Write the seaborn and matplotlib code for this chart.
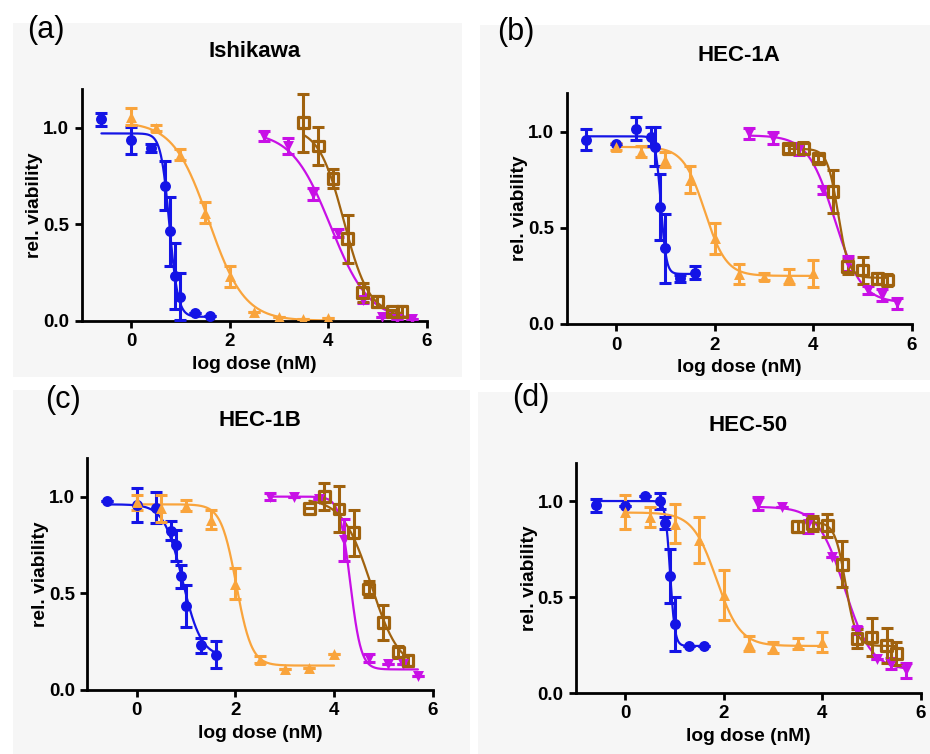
import numpy as np
import pandas as pd
import matplotlib
matplotlib.use("Agg")
import matplotlib.pyplot as plt
from matplotlib.patches import Rectangle
import seaborn as sns

sns.set_style("white")
plt.rcParams['font.family'] = ['Liberation Sans', 'DejaVu Sans']
plt.rcParams['text.color'] = 'black'
plt.rcParams['axes.labelcolor'] = 'black'
plt.rcParams['xtick.color'] = 'black'
plt.rcParams['ytick.color'] = 'black'

# ---------------- data ----------------
PANELS = ["Ishikawa", "HEC-1A", "HEC-1B", "HEC-50"]
LETTERS = ["(a)", "(b)", "(c)", "(d)"]
COMPOUNDS = ["blue", "orange", "magenta", "brown"]

DOSE_BLUE = [-0.6, 0.0, 0.4, 0.7, 0.8, 0.9, 1.0, 1.3, 1.6]
DOSE_ORANGE = [0.0, 0.5, 1.0, 1.5, 2.0, 2.5, 3.0, 3.5, 4.0]
DOSE_MAGENTA = [2.7, 3.18, 3.7, 4.2, 4.7, 5.1, 5.4, 5.7]
DOSE_BROWN = [3.5, 3.8, 4.1, 4.4, 4.7, 5.0, 5.3, 5.5]

# Ishikawa
ISH_BLUE_Y = [1.043, 0.934, 0.893, 0.70, 0.463, 0.23, 0.125, 0.038, 0.024]
ISH_BLUE_E = [0.035, 0.07, 0.02, 0.125, 0.18, 0.17, 0.12, 0.0, 0.0]
ISH_ORANGE_Y = [1.057, 1.0, 0.86, 0.56, 0.23, 0.047, 0.02, 0.007, 0.012]
ISH_ORANGE_E = [0.045, 0.015, 0.03, 0.055, 0.055, 0.0, 0.0, 0.0, 0.0]
ISH_MAGENTA_Y = [0.957, 0.905, 0.655, 0.456, 0.108, 0.02, 0.007, 0.007]
ISH_MAGENTA_E = [0.025, 0.04, 0.03, 0.02, 0.015, 0.0, 0.0, 0.0]
ISH_BROWN_Y = [1.026, 0.905, 0.737, 0.425, 0.146, 0.10, 0.047, 0.047]
ISH_BROWN_E = [0.15, 0.10, 0.05, 0.125, 0.05, 0.03, 0.01, 0.03]

# HEC-1A
A1_BLUE_Y = [0.957, 0.934, 1.014, 0.974, 0.922, 0.607, 0.393, 0.237, 0.267]
A1_BLUE_E = [0.055, 0.0, 0.06, 0.05, 0.10, 0.17, 0.18, 0.02, 0.035]
A1_ORANGE_Y = [0.922, 0.896, 0.853, 0.749, 0.445, 0.26, 0.246, 0.246, 0.263]
A1_ORANGE_E = [0.02, 0.03, 0.04, 0.07, 0.08, 0.05, 0.02, 0.04, 0.07]
A1_MAGENTA_Y = [0.99, 0.965, 0.91, 0.697, 0.315, 0.177, 0.15, 0.107]
A1_MAGENTA_E = [0.03, 0.03, 0.03, 0.02, 0.04, 0.02, 0.03, 0.03]
A1_BROWN_Y = [0.91, 0.913, 0.86, 0.688, 0.298, 0.28, 0.237, 0.229]
A1_BROWN_E = [0.02, 0.03, 0.02, 0.11, 0.04, 0.07, 0.03, 0.03]

# HEC-1B
B1_BLUE_Y = [0.978, 0.957, 0.943, 0.824, 0.749, 0.588, 0.433, 0.23, 0.182]
B1_BLUE_E = [0.0, 0.09, 0.08, 0.05, 0.08, 0.06, 0.11, 0.04, 0.07]
B1_ORANGE_Y = [0.97, 0.94, 0.953, 0.88, 0.55, 0.156, 0.109, 0.114, 0.187]
B1_ORANGE_E = [0.04, 0.07, 0.03, 0.05, 0.08, 0.02, 0.0, 0.0, 0.0]
B1_MAGENTA_Y = [1.0, 0.997, 0.99, 0.775, 0.166, 0.135, 0.131, 0.069]
B1_MAGENTA_E = [0.02, 0.0, 0.0, 0.11, 0.02, 0.0, 0.0, 0.0]
B1_BROWN_Y = [0.94, 1.0, 0.936, 0.813, 0.521, 0.348, 0.195, 0.152]
B1_BROWN_E = [0.0, 0.07, 0.12, 0.12, 0.04, 0.09, 0.03, 0.03]

# HEC-50
H50_BLUE_Y = [0.977, 0.972, 1.024, 1.0, 0.885, 0.608, 0.358, 0.243, 0.243]
H50_BLUE_E = [0.035, 0.0, 0.0, 0.04, 0.03, 0.14, 0.14, 0.0, 0.0]
H50_ORANGE_Y = [0.943, 0.917, 0.882, 0.795, 0.512, 0.257, 0.236, 0.257, 0.266]
H50_ORANGE_E = [0.09, 0.05, 0.10, 0.12, 0.13, 0.04, 0.03, 0.03, 0.05]
H50_MAGENTA_Y = [0.986, 0.969, 0.882, 0.708, 0.326, 0.179, 0.153, 0.118]
H50_MAGENTA_E = [0.035, 0.0, 0.05, 0.0, 0.02, 0.0, 0.03, 0.04]
H50_BROWN_Y = [0.868, 0.882, 0.873, 0.67, 0.283, 0.292, 0.248, 0.205]
H50_BROWN_E = [0.03, 0.04, 0.06, 0.12, 0.05, 0.10, 0.09, 0.06]

# fitted dose-response parameters: top, bottom, logIC50, hill
FIT_ISH = [[0.97, 0.02, 0.78, 5.0], [1.03, 0.0, 1.58, 1.2],
           [0.98, 0.0, 4.05, 1.1], [1.0, 0.03, 4.32, 1.7]]
FIT_A1 = [[0.975, 0.26, 0.91, 8.0], [0.92, 0.25, 1.8, 2.0],
          [0.98, 0.11, 4.43, 1.6], [0.91, 0.24, 4.5, 4.0]]
FIT_B1 = [[0.96, 0.17, 0.93, 2.3], [0.96, 0.125, 2.02, 2.8],
          [1.0, 0.105, 4.33, 4.0], [0.99, 0.10, 4.75, 1.5]]
FIT_H50 = [[1.0, 0.245, 0.91, 9.0], [0.94, 0.245, 1.85, 1.8],
           [0.97, 0.12, 4.45, 1.6], [0.89, 0.245, 4.47, 4.0]]

X_TICKS = [0, 2, 4, 6]
Y_TICKS = [0.0, 0.5, 1.0]

# ---------------- styling ----------------
COLORS = {"blue": "#1414e6", "orange": "#f9a43c", "magenta": "#c810e6", "brown": "#a0620e"}
MARKERS = {"blue": "o", "orange": "^", "magenta": "v", "brown": "s"}

DOSES = {"blue": DOSE_BLUE, "orange": DOSE_ORANGE, "magenta": DOSE_MAGENTA, "brown": DOSE_BROWN}
PANEL_Y = [
    [ISH_BLUE_Y, ISH_ORANGE_Y, ISH_MAGENTA_Y, ISH_BROWN_Y],
    [A1_BLUE_Y, A1_ORANGE_Y, A1_MAGENTA_Y, A1_BROWN_Y],
    [B1_BLUE_Y, B1_ORANGE_Y, B1_MAGENTA_Y, B1_BROWN_Y],
    [H50_BLUE_Y, H50_ORANGE_Y, H50_MAGENTA_Y, H50_BROWN_Y],
]
PANEL_E = [
    [ISH_BLUE_E, ISH_ORANGE_E, ISH_MAGENTA_E, ISH_BROWN_E],
    [A1_BLUE_E, A1_ORANGE_E, A1_MAGENTA_E, A1_BROWN_E],
    [B1_BLUE_E, B1_ORANGE_E, B1_MAGENTA_E, B1_BROWN_E],
    [H50_BLUE_E, H50_ORANGE_E, H50_MAGENTA_E, H50_BROWN_E],
]
PANEL_FIT = [FIT_ISH, FIT_A1, FIT_B1, FIT_H50]

W, H = 930, 754
fig = plt.figure(figsize=(W / 100, H / 100), dpi=100, facecolor="white")

# panel background boxes (pixels: x0, y0, x1, y1)
BOXES = [(13, 23, 462, 377), (480, 25, 930, 380), (13, 390, 470, 754), (478, 392, 930, 754)]
for (x0, y0, x1, y1) in BOXES:
    fig.patches.append(Rectangle((x0 / W, 1 - y1 / H), (x1 - x0) / W, (y1 - y0) / H,
                                 transform=fig.transFigure, facecolor="#f6f6f6",
                                 edgecolor="none", zorder=-10))

# axes rectangles in pixels: left, right, top(1.2), bottom(0)
AX_PIX = [(81.7, 426.7, 89.0, 320.7), (566.7, 912.0, 93.0, 324.0),
          (87.3, 432.7, 458.0, 689.7), (576.0, 921.0, 462.6, 693.0)]
LETTER_POS = [(27, 30), (497, 32), (45, 400), (512, 398)]

for i, name in enumerate(PANELS):
    l, r, t, b = AX_PIX[i]
    ax = fig.add_axes([l / W, 1 - b / H, (r - l) / W, (b - t) / H])
    ax.set_facecolor("none")
    for j, comp in enumerate(COMPOUNDS):
        xs = DOSES[comp]
        ys = PANEL_Y[i][j]
        es = PANEL_E[i][j]
        top, bot, ic, hill = PANEL_FIT[i][j]
        xc = np.linspace(min(xs), max(xs), 300)
        yc = bot + (top - bot) / (1 + 10 ** ((xc - ic) * hill))
        sns.lineplot(x=xc, y=yc, ax=ax, color=COLORS[comp], lw=1.6, zorder=2)
        ax.errorbar(xs, ys, yerr=es, fmt="none", ecolor=COLORS[comp],
                    elinewidth=2.2, capsize=4.5, capthick=2.2, zorder=3)
        df = pd.DataFrame({"x": xs, "y": ys})
        if comp == "brown":
            ax.scatter(df.x, df.y, marker="s", s=60, facecolors="none",
                       edgecolors=COLORS[comp], linewidths=2.3, zorder=4)
        else:
            sns.scatterplot(data=df, x="x", y="y", ax=ax, marker=MARKERS[comp],
                            color=COLORS[comp], s=62, edgecolor=COLORS[comp],
                            linewidth=0, zorder=4)

    ax.set_xlim(-1, 6)
    ax.set_ylim(0, 1.2)
    ax.set_xticks(X_TICKS)
    ax.set_yticks(Y_TICKS)
    ax.set_yticklabels(["0.0", "0.5", "1.0"])
    for side in ["top", "right"]:
        ax.spines[side].set_visible(False)
    for side in ["left", "bottom"]:
        ax.spines[side].set_linewidth(2.0)
        ax.spines[side].set_color("black")
    ax.tick_params(axis="both", direction="out", length=5, width=2.0, color="black",
                   labelcolor="black", labelsize=13.5, pad=4, bottom=True, left=True)
    for lab in ax.get_xticklabels() + ax.get_yticklabels():
        lab.set_fontweight("bold")
    ax.set_xlabel("log dose (nM)", fontsize=13.8, fontweight="bold", labelpad=4,
                  color="black")
    ax.set_ylabel("rel. viability", fontsize=13.8, fontweight="bold", labelpad=0,
                  color="black")
    ax.set_title(name, fontsize=16, fontweight="bold", pad=23, color="black")
    ax.grid(False)
    lx, ly = LETTER_POS[i]
    fig.text(lx / W, 1 - ly / H, LETTERS[i], fontsize=22, ha="left", va="center",
             color="black")

fig.savefig("out.png", dpi=100, facecolor="white")
